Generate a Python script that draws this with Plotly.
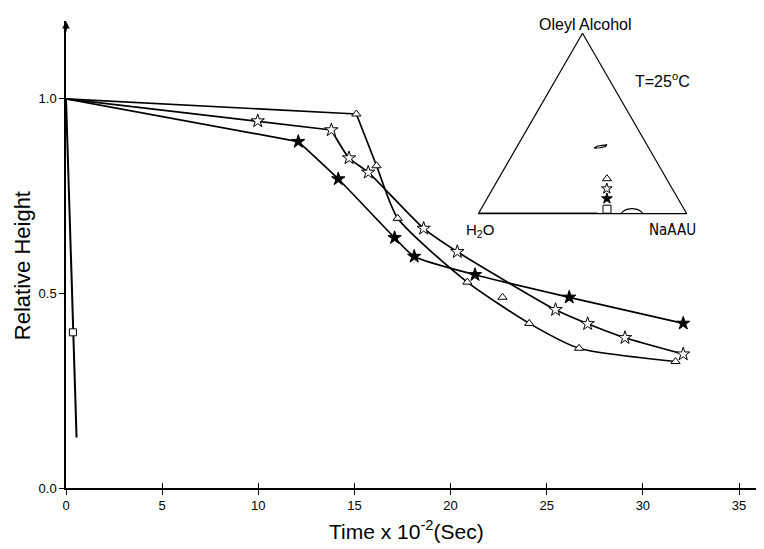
import plotly.graph_objects as go

# ---------------- data ----------------
# open triangles
tri_t = [15.1, 16.15, 17.25, 20.87, 24.09, 26.68, 31.7]
tri_h = [0.961, 0.828, 0.693, 0.529, 0.423, 0.359, 0.325]
tri_extra_t = [22.7]
tri_extra_h = [0.490]

# open stars
ostar_t = [9.97, 13.8, 14.72, 15.72, 18.6, 20.35, 25.46, 27.13, 29.07, 32.1]
ostar_h = [0.943, 0.920, 0.848, 0.811, 0.667, 0.607, 0.458, 0.422, 0.386, 0.344]

# filled stars
fstar_t = [12.08, 14.16, 17.09, 18.11, 21.27, 26.17, 32.1]
fstar_h = [0.890, 0.794, 0.643, 0.595, 0.548, 0.490, 0.423]

# open square
sq_t = [0.36]
sq_h = [0.40]
sq_curve_t = [0.0, 0.36, 0.55]
sq_curve_h = [1.0, 0.40, 0.13]

start_t = 0.0
start_h = 1.0

# index of the "knee" where each curve leaves its straight initial run
tri_knee = 0
ostar_knee = 1
fstar_knee = 0

x_ticks = [0, 5, 10, 15, 20, 25, 30, 35]
y_ticks = [0.0, 0.5, 1.0]

# inset ternary diagram (a = Oleyl Alcohol, b = H2O, c = NaAAU)
ins_a = [0.194, 0.139, 0.084, 0.025]
ins_c = [0.520, 0.547, 0.575, 0.605]
ins_symbols = ["triangle-up", "star", "star", "square"]
ins_fill = ["white", "white", "black", "white"]

loop_a = [0.3626, 0.3736, 0.3790, 0.3818, 0.3719, 0.3653, 0.3626]
loop_c = [0.3739, 0.3828, 0.4041, 0.4267, 0.4220, 0.4013, 0.3739]

dome_a = [0.0, 0.016, 0.025, 0.028, 0.025, 0.016, 0.0]
dome_c = [0.6847, 0.6911, 0.7058, 0.7235, 0.7442, 0.7679, 0.7903]

base_a = [0.004, 0.004]
base_c = [0.004, 0.57]

# ---------------- figure ----------------
FONT = "Liberation Sans, Arial, sans-serif"
NARROW = "Liberation Sans Narrow, DejaVu Sans Condensed, Arial, sans-serif"
fig = go.Figure()

straight = dict(color="black", width=1.7)
curved = dict(color="black", width=1.7, shape="spline", smoothing=0.6)


def add_curve(ts, hs, knee):
    # straight run from the common start to the knee, smooth curve afterwards
    fig.add_trace(go.Scatter(x=[start_t] + ts[:knee + 1], y=[start_h] + hs[:knee + 1],
                             mode="lines", line=straight, hoverinfo="skip"))
    fig.add_trace(go.Scatter(x=ts[knee:], y=hs[knee:], mode="lines", line=curved,
                             hoverinfo="skip"))


add_curve(tri_t, tri_h, tri_knee)
add_curve(ostar_t, ostar_h, ostar_knee)
add_curve(fstar_t, fstar_h, fstar_knee)
fig.add_trace(go.Scatter(x=sq_curve_t, y=sq_curve_h, mode="lines",
                         line=dict(color="black", width=2), hoverinfo="skip"))

fig.add_trace(go.Scatter(x=tri_t + tri_extra_t, y=tri_h + tri_extra_h, mode="markers",
                         marker=dict(symbol="triangle-up", size=8, color="white",
                                     line=dict(color="black", width=1))))
fig.add_trace(go.Scatter(x=ostar_t, y=ostar_h, mode="markers",
                         marker=dict(symbol="star", size=10, color="white",
                                     line=dict(color="black", width=1))))
fig.add_trace(go.Scatter(x=fstar_t, y=fstar_h, mode="markers",
                         marker=dict(symbol="star", size=10, color="black",
                                     line=dict(color="black", width=1))))
fig.add_trace(go.Scatter(x=sq_t, y=sq_h, mode="markers",
                         marker=dict(symbol="square", size=7, color="white",
                                     line=dict(color="black", width=1))))

# inset
fig.add_trace(go.Scatterternary(a=base_a, c=base_c, mode="lines",
                                line=dict(color="#888888", width=2), hoverinfo="skip"))
fig.add_trace(go.Scatterternary(a=loop_a, c=loop_c, mode="lines",
                                line=dict(color="black", width=1.2), hoverinfo="skip"))
fig.add_trace(go.Scatterternary(a=dome_a, c=dome_c, mode="lines",
                                line=dict(color="black", width=1.2, shape="spline"),
                                hoverinfo="skip"))
fig.add_trace(go.Scatterternary(a=ins_a, c=ins_c, mode="markers",
                                marker=dict(symbol=ins_symbols, size=8, color=ins_fill,
                                            line=dict(color="black", width=1))))

tern_axis = dict(showgrid=False, showticklabels=False, ticks="", linecolor="black",
                 linewidth=1.2, min=0, title=dict(text=""))

# page body has an 8px margin: size the figure so the plot lands where the reference has it
fig.update_layout(
    width=756, height=541,
    margin=dict(l=58, r=0, t=13, b=61),
    paper_bgcolor="white", plot_bgcolor="white",
    showlegend=False,
    font=dict(family=FONT, color="black", size=13),
    xaxis=dict(range=[0, 36.3], tickvals=x_ticks, ticktext=[str(v) for v in x_ticks],
               showline=True, linecolor="black", linewidth=1.5, ticks="outside",
               ticklen=5, tickwidth=1.2, tickcolor="black", showgrid=False,
               zeroline=False, tickfont=dict(size=13)),
    xaxis2=dict(range=[0, 36.3], tickvals=x_ticks[1:], overlaying="x",
                showticklabels=False, ticks="inside", ticklen=5, tickwidth=1.2,
                tickcolor="black", showgrid=False, zeroline=False, showline=False),
    yaxis=dict(range=[0, 1.2], tickvals=y_ticks, ticktext=["0.0", "0.5", "1.0"],
               showline=True, linecolor="black", linewidth=1.5, ticks="outside",
               ticklen=5, tickwidth=1.2, tickcolor="black", showgrid=False,
               zeroline=False, tickfont=dict(size=13)),
    ternary=dict(domain=dict(x=[0.5907, 0.8893], y=[0.5854, 0.9758]), sum=1,
                 bgcolor="rgba(0,0,0,0)",
                 aaxis=tern_axis, baxis=tern_axis, caxis=tern_axis),
    annotations=[
        dict(text="Time x 10<sup>-2</sup>(Sec)", xref="paper", yref="paper",
             x=0.488, y=-0.09, xanchor="center", yanchor="middle", showarrow=False,
             font=dict(size=21)),
        dict(text="Relative Height", xref="paper", yref="paper", x=-0.063, y=0.475,
             textangle=-90, xanchor="center", yanchor="middle", showarrow=False,
             font=dict(size=22)),
        dict(text="Oleyl Alcohol", xref="paper", yref="paper", x=0.7436, y=0.993,
             xanchor="center", yanchor="middle", showarrow=False, font=dict(size=16)),
        dict(text="H<sub>2</sub>O", xref="paper", yref="paper", x=0.593, y=0.552,
             xanchor="center", yanchor="middle", showarrow=False, font=dict(size=15)),
        dict(text="NaAAU", xref="paper", yref="paper", x=0.8696, y=0.552,
             xanchor="center", yanchor="middle", showarrow=False,
             font=dict(size=15, family=NARROW)),
        dict(text="T=25<sup>o</sup>C", xref="paper", yref="paper", x=0.855, y=0.874,
             xanchor="center", yanchor="middle", showarrow=False, font=dict(size=16)),
        dict(x=0, y=1.2, xref="x", yref="y", ax=0, ay=12, showarrow=True,
             arrowhead=2, arrowsize=1, arrowwidth=1.5, arrowcolor="black", text=""),
    ],
)
# dummy trace to activate xaxis2
fig.add_trace(go.Scatter(x=[None], y=[None], xaxis="x2", yaxis="y", hoverinfo="skip"))

fig.write_html("out.html")
